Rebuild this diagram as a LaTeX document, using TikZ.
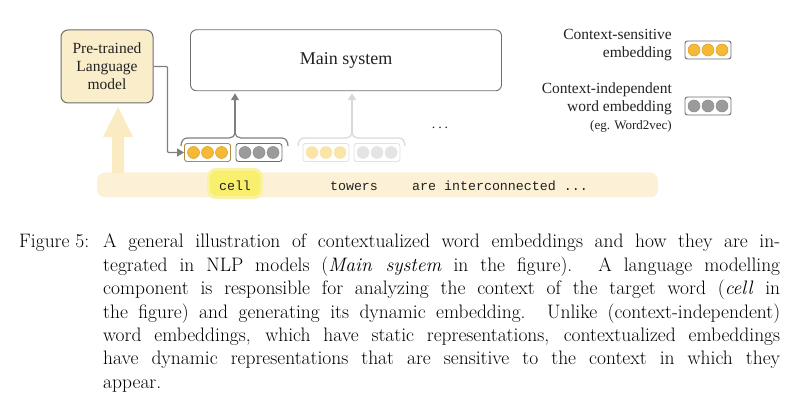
\documentclass[tikz,border=0pt]{standalone}
\usepackage{fontspec}
\newfontfamily\diag{Liberation Serif}
\newfontfamily\mono{Liberation Mono}
\usetikzlibrary{arrows.meta}
\definecolor{lmfill}{HTML}{FAEDC9}
\definecolor{boxline}{HTML}{6E6E6E}
\definecolor{arrowc}{HTML}{7F7F7F}
\definecolor{orangec}{HTML}{F5B936}
\definecolor{orangeline}{HTML}{D9A024}
\definecolor{greyc}{HTML}{9B9B9B}
\definecolor{greyline}{HTML}{8A8A8A}
\definecolor{fadeline}{HTML}{E2E2E2}
\definecolor{fadeorange}{HTML}{FAE4A8}
\definecolor{fadegrey}{HTML}{E4E4E4}
\definecolor{fadearrow}{HTML}{D8D8D8}
\definecolor{barfill}{HTML}{FCF1D6}
\definecolor{bigarrow}{HTML}{FBEBC3}
\definecolor{hl}{HTML}{F8F06C}
\definecolor{hlsoft}{HTML}{FAF2A0}
\definecolor{txt}{HTML}{222222}
\newcommand\embdots[3]{%
  \foreach \dx in {-14,0,14}
    \filldraw[fill=#2,draw=#3,line width=0.5pt] ([xshift=\dx pt]#1.center) circle (6pt);}
\newcommand\embbrace[4]{%
  \draw[#4,line width=1.2pt] (#1,146) to[out=90,in=180] (#1+6,138) -- (#3-6,138)
     to[out=0,in=-90] (#3,133) to[out=-90,in=180] (#3+6,138) -- (#2-6,138)
     to[out=0,in=90] (#2,146);}
\tikzset{
  embbox/.style={draw=#1,line width=0.9pt,rounded corners=2.5pt,minimum width=46pt,
    minimum height=18pt,inner sep=0pt,fill=white},
  embbox/.default=boxline,
  dtext/.style={font=\diag\fontsize{15.5}{17.8}\selectfont,text=txt,inner sep=0pt},
  mtext/.style={font=\mono\fontsize{13.3}{15}\selectfont,text=txt,inner sep=0pt},
  conn/.style={draw=arrowc,line width=1.3pt,-{Triangle[length=7pt,width=8pt]}},
}
\begin{document}
\begin{tikzpicture}[x=1pt,y=-1pt]
\useasboundingbox (0,0) rectangle (800,411);
% sentence bar
\node[fill=barfill,rounded corners=8pt,minimum width=561pt,minimum height=25pt,inner sep=0pt] (bar) at (377.5,185) {};
\node[fill=hlsoft,rounded corners=9pt,minimum width=56pt,minimum height=31pt,inner sep=0pt] (hlo) at (235,183.5) {};
\node[fill=hl,rounded corners=7pt,minimum width=50pt,minimum height=25pt,inner sep=0pt] (hli) at (235,183.5) {};
\node[mtext] (w1) at (235,186) {cell};
\node[mtext] (w2) at (354,186) {towers};
\node[mtext,anchor=west] (w3) at (412,186) {are interconnected ...};
% big arrow
\fill[bigarrow] (112,173) -- (112,137) -- (103,137) -- (118,107) -- (133,137) -- (124,137) -- (124,173) -- cycle;
% LM box
\node[draw=boxline,line width=1pt,fill=lmfill,rounded corners=7pt,minimum width=92pt,minimum height=73pt,align=center,dtext] (lm) at (107,66.5) {Pre-trained\\Language\\model};
% main system
\node[draw=boxline,line width=0.9pt,rounded corners=6pt,minimum width=311pt,minimum height=61pt,dtext,font=\diag\fontsize{18}{21}\selectfont] (main) at (346,60.3) {Main system};
% embeddings pair 1
\node[embbox,draw=orangeline!60!boxline] (e1o) at (207.5,152.5) {};
\embdots{e1o}{orangec}{orangeline}
\node[embbox] (e1g) at (259,152.5) {};
\embdots{e1g}{greyc}{greyline}
\embbrace{181}{288}{235}{arrowc}
\coordinate (b1) at (235,133);
\draw[conn] (b1) -- ([yshift=-2pt]b1 |- main.south);
% embeddings pair 2 (faded)
\node[embbox=fadeline] (e2o) at (326,152.5) {};
\embdots{e2o}{fadeorange}{fadeorange}
\node[embbox=fadeline] (e2g) at (377,152.5) {};
\embdots{e2g}{fadegrey}{fadegrey}
\embbrace{298}{405}{352}{fadearrow}
\coordinate (b2) at (352,133);
\draw[conn,draw=fadearrow] (b2) -- ([yshift=-2pt]b2 |- main.south);
\node[dtext,font=\diag\fontsize{14}{16}\selectfont] (more) at (440,128) {.\hspace{3pt}.\hspace{3pt}.};
% LM connector
\draw[conn,rounded corners=1pt] (lm.east) -- ++(14,0) |- (e1o.west);
% legend
\node[embbox] (lo) at (708,50) {};
\embdots{lo}{orangec}{orangeline}
\node[embbox] (lg) at (708,106) {};
\embdots{lg}{greyc}{greyline}
\node[dtext,anchor=east,align=right] (lt1) at (672,45) {Context-sensitive\\embedding};
\node[dtext,anchor=east,align=right] (lt2) at (672,107.5) {Context-independent\\word embedding\\{\fontsize{13}{15}\selectfont (eg. Word2vec)}};
% caption
\node[anchor=base west,inner sep=0pt,font=\fontsize{19.5}{23.4}\selectfont] (cl) at (19,248) {Figure 5:};
\node[anchor=base west,inner sep=0pt,font=\fontsize{19.5}{23.4}\selectfont] (ct) at (103,248) {\parbox[t]{677pt}{%
A general illustration of contextualized word embeddings and how they are in-\linebreak
tegrated in NLP models (\textit{Main system} in the figure). A language modelling\linebreak
component is responsible for analyzing the context of the target word (\textit{cell} in\linebreak
the figure) and generating its dynamic embedding. Unlike (context-independent)\linebreak
word embeddings, which have static representations, contextualized embeddings\linebreak
have dynamic representations that are sensitive to the context in which they\linebreak
appear.}};
\end{tikzpicture}
\end{document}
